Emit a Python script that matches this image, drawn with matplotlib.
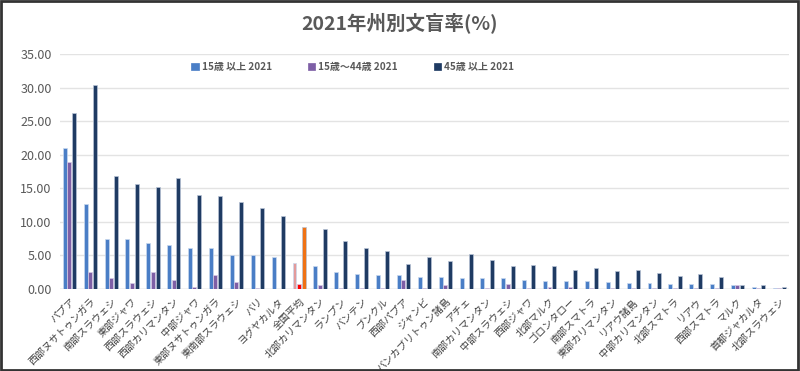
import matplotlib
matplotlib.use("Agg")
import matplotlib.pyplot as plt
import numpy as np

plt.rcParams['font.family'] = ['Noto Sans CJK JP', 'DejaVu Sans']

provinces = ["パプア", "西部ヌサトゥンガラ", "南部スラウェシ", "東部ジャワ", "西部スラウェシ",
             "西部カリマンタン", "中部ジャワ", "東部ヌサトゥンガラ", "東南部スラウェシ", "バリ",
             "ヨグヤカルタ", "全国平均", "北部カリマンタン", "ランプン", "バンテン", "ブンクル",
             "西部パプア", "ジャンビ", "バンカブリトゥン諸島", "アチェ", "南部カリマンタン",
             "中部スラウェシ", "西部ジャワ", "北部マルク", "ゴロンタロー", "南部スマトラ",
             "東部カリマンタン", "リアウ諸島", "中部カリマンタン", "北部スマトラ", "リアウ",
             "西部スマトラ", "マルク", "首都ジャカルタ", "北部スラウェシ"]

age15plus = [21.0, 12.6, 7.5, 7.4, 6.9, 6.5, 6.1, 6.1, 5.0, 5.0, 4.7, 3.9, 3.4, 2.6, 2.2,
             2.1, 2.05, 1.85, 1.85, 1.7, 1.7, 1.7, 1.4, 1.2, 1.2, 1.2, 1.05, 0.9, 0.9, 0.8,
             0.7, 0.7, 0.55, 0.25, 0.2]
age15to44 = [19.0, 2.6, 1.7, 0.9, 2.6, 1.4, 0.25, 2.1, 1.05, 0.1, 0.0, 0.7, 0.55, 0.1, 0.1,
             0.1, 1.4, 0.2, 0.55, 0.0, 0.1, 0.7, 0.15, 0.25, 0.25, 0.2, 0.1, 0.1, 0.1, 0.2,
             0.1, 0.1, 0.55, 0.1, 0.15]
age45plus = [26.2, 30.4, 16.8, 15.6, 15.2, 16.5, 14.0, 13.8, 13.0, 12.0, 10.9, 9.2, 8.9, 7.1,
             6.1, 5.6, 3.8, 4.8, 4.1, 5.2, 4.3, 3.5, 3.55, 3.4, 2.9, 3.15, 2.75, 2.8, 2.4, 2.0,
             2.3, 1.85, 0.65, 0.55, 0.35]

series_labels = ["15歳 以上 2021", "15歳～44歳 2021", "45歳 以上 2021"]
yticks = [0, 5, 10, 15, 20, 25, 30, 35]

c_blue, c_purple, c_navy = "#4A7EC6", "#7E5FA6", "#1F3B63"
nat_colors = ["#E39A9A", "#FF0000", "#F07214"]

fig = plt.figure(figsize=(8.0, 3.71), dpi=100)
ax = fig.add_axes([0.075, 0.221, 0.911, 0.633])

x = np.arange(len(provinces))
w = 0.19
nat = provinces.index("全国平均")
cols1 = [nat_colors[0] if i == nat else c_blue for i in x]
cols2 = [nat_colors[1] if i == nat else c_purple for i in x]
cols3 = [nat_colors[2] if i == nat else c_navy for i in x]
ax.bar(x - 0.22, age15plus, w, color=cols1, edgecolor="#C9D8EE", linewidth=0.5, label=series_labels[0], zorder=3)
ax.bar(x - 0.01, age15to44, w, color=cols2, edgecolor="#D6CCE5", linewidth=0.5, label=series_labels[1], zorder=3)
ax.bar(x + 0.22, age45plus, w, color=cols3, edgecolor="#B8C4D6", linewidth=0.5, label=series_labels[2], zorder=3)

ax.set_xlim(-0.45, len(provinces) - 0.55)
ax.set_ylim(0, 35)
ax.set_yticks(yticks)
ax.set_yticklabels([f"{v:.2f}" for v in yticks], fontsize=9, color="#595959")
ax.yaxis.grid(True, color="#E3E3E3", linewidth=1, zorder=0)
ax.tick_params(axis="both", length=0, pad=6)
for s in ax.spines.values():
    s.set_visible(False)
ax.axhline(0, color="#D9D9D9", linewidth=1, zorder=2)

ax.set_xticks(x)
ax.set_xticklabels(provinces, rotation=45, ha="right", rotation_mode="anchor",
                   fontsize=7.2, color="#404040")
ax.tick_params(axis="x", pad=5)

h, l = ax.get_legend_handles_labels()
leg = fig.legend(h, l, loc="center", bbox_to_anchor=(0.441, 0.819), ncol=3, frameon=False,
                 handlelength=0.75, handleheight=0.75, columnspacing=3.6, handletextpad=0.3,
                 prop={"size": 7.2, "weight": "bold"})
for t in leg.get_texts():
    t.set_color("#595959")
for hdl, c in zip(leg.legend_handles, [c_blue, c_purple, c_navy]):
    hdl.set_color(c)

fig.text(0.5, 0.94, "2021年州別文盲率(%)", ha="center", va="center", fontsize=14,
         color="#595959", fontweight="bold")

fig.patches.append(plt.Rectangle((0.001, 0.002), 0.997, 0.995, transform=fig.transFigure,
                                 fill=False, edgecolor="#333333", linewidth=2))

fig.savefig("out.png", dpi=100)
